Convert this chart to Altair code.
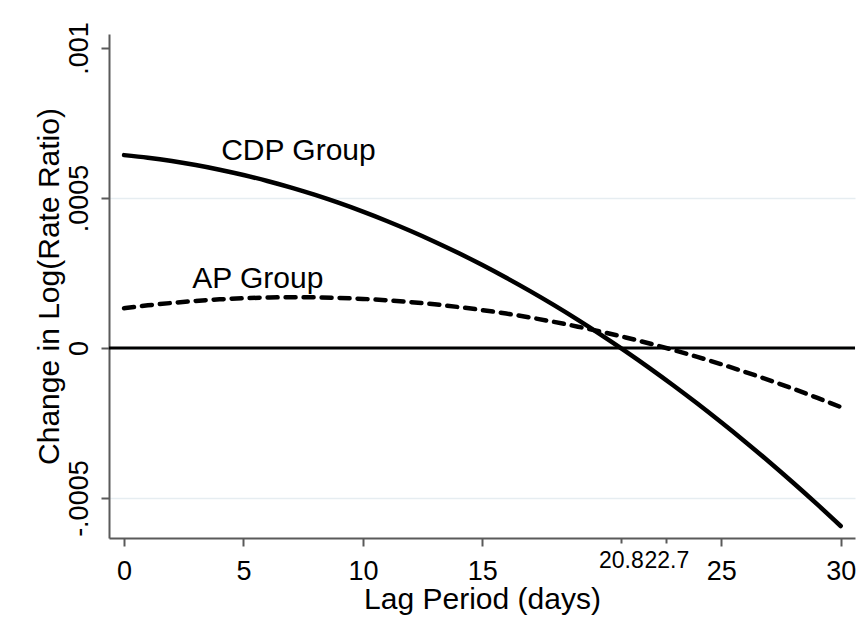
import altair as alt
import pandas as pd

# Lag period (days) at which the fitted curves are evaluated
days = list(range(31))

# Fitted change in log(rate ratio), CDP group
cdp_values = [
    0.0006430, 0.0006342, 0.0006232, 0.0006100, 0.0005945, 0.0005768,
    0.0005568, 0.0005346, 0.0005102, 0.0004835, 0.0004546, 0.0004235,
    0.0003901, 0.0003545, 0.0003166, 0.0002766, 0.0002342, 0.0001897,
    0.0001429, 0.0000939, 0.0000426, -0.0000109, -0.0000666, -0.0001246,
    -0.0001848, -0.0002473, -0.0003119, -0.0003788, -0.0004480, -0.0005194,
    -0.0005930,
]

# Fitted change in log(rate ratio), AP group
ap_values = [
    0.0001330, 0.0001424, 0.0001504, 0.0001571, 0.0001623, 0.0001661,
    0.0001684, 0.0001694, 0.0001690, 0.0001672, 0.0001639, 0.0001592,
    0.0001532, 0.0001457, 0.0001368, 0.0001266, 0.0001149, 0.0001018,
    0.0000872, 0.0000713, 0.0000540, 0.0000353, 0.0000151, -0.0000064,
    -0.0000294, -0.0000538, -0.0000795, -0.0001067, -0.0001353, -0.0001653,
    -0.0001967,
]

# Curve labels and where they sit (day, value at baseline)
label_text = ["CDP Group", "AP Group"]
label_day = [7.3, 5.6]
label_value = [0.000627, 0.000200]

# Axis ticks
x_ticks = [0, 5, 10, 15, 20.8, 22.7, 25, 30]
x_tick_labels = ["0", "5", "10", "15", "20.8", "22.7", "25", "30"]
x_marked = [20.8, 22.7]  # zero crossings, drawn smaller
y_ticks = [-0.0005, 0, 0.0005, 0.001]
y_tick_labels = ["-.0005", "0", ".0005", ".001"]

x_domain = [-0.63, 30.6]
y_domain = [-0.000633, 0.0010467]

FONT = "Liberation Sans"
AXIS_GRAY = "#5a5a5a"


def label_expr(values, labels):
    parts = [f"abs(datum.value - ({v})) < 1e-9 ? '{t}'" for v, t in zip(values, labels)]
    return " : ".join(parts) + " : ''"


marked_test = " || ".join(f"abs(datum.value - {v}) < 1e-9" for v in x_marked)
ytop_test = f"abs(datum.value - {y_ticks[-1]}) < 1e-12"

cdp_df = pd.DataFrame({"day": days, "value": cdp_values})
ap_df = pd.DataFrame({"day": days, "value": ap_values})
labels_df = pd.DataFrame({"day": label_day, "value": label_value, "text": label_text})
zero_df = pd.DataFrame({"value": [0.0]})

x_enc = alt.X(
    "day:Q",
    scale=alt.Scale(domain=x_domain, nice=False, zero=False),
    axis=alt.Axis(
        title="Lag Period (days)",
        values=x_ticks,
        labelExpr=label_expr(x_ticks, x_tick_labels),
        grid=False,
        labelFont=FONT,
        labelFontSize={"condition": {"test": marked_test, "value": 23}, "value": 27},
        labelBaseline="alphabetic",
        labelPadding={"condition": {"test": marked_test, "value": 24}, "value": 33},
        labelColor="black",
        labelFlush=False,
        labelOverlap=False,
        tickSize={"condition": {"test": marked_test, "value": 5}, "value": 8},
        tickColor=AXIS_GRAY,
        tickWidth=2,
        domainColor=AXIS_GRAY,
        domainWidth=2,
        titleFont=FONT,
        titleFontSize=30,
        titleFontWeight="normal",
        titleColor="black",
        titleBaseline="alphabetic",
        titleY=70,
    ),
)

y_enc = alt.Y(
    "value:Q",
    scale=alt.Scale(domain=y_domain, nice=False, zero=False),
    axis=alt.Axis(
        title="Change in Log(Rate Ratio)",
        values=y_ticks,
        labelExpr=label_expr(y_ticks, y_tick_labels),
        labelAngle=-90,
        labelAlign="center",
        labelBaseline="alphabetic",
        labelPadding=14,
        labelFont=FONT,
        labelFontSize=27,
        labelColor="black",
        labelFlush=False,
        labelOverlap=False,
        tickSize=8,
        tickColor=AXIS_GRAY,
        tickWidth=2,
        domainColor=AXIS_GRAY,
        domainWidth=2,
        grid=True,
        gridColor="#e6edf1",
        gridWidth=1.5,
        gridOpacity={"condition": {"test": ytop_test, "value": 0}, "value": 1},
        titleFont=FONT,
        titleFontSize=30,
        titleFontWeight="normal",
        titleColor="black",
        titleAngle=-90,
        titleBaseline="alphabetic",
        titleX=-51,
        titleY=252,
    ),
)

cdp_line = alt.Chart(cdp_df).mark_line(
    color="black", strokeWidth=4.5, strokeCap="round", interpolate="monotone"
).encode(x=x_enc, y=y_enc)

ap_line = alt.Chart(ap_df).mark_line(
    color="black", strokeWidth=4.5, strokeCap="round", strokeDash=[10, 8],
    interpolate="monotone"
).encode(x="day:Q", y="value:Q")

zero_rule = alt.Chart(zero_df).mark_rule(color="black", strokeWidth=3).encode(
    y="value:Q"
)

curve_labels = alt.Chart(labels_df).mark_text(
    font=FONT, fontSize=30, color="black", align="center", baseline="alphabetic"
).encode(x="day:Q", y="value:Q", text="text:N")

chart = (
    alt.layer(cdp_line, zero_rule, ap_line, curve_labels)
    .properties(
        width=746,
        height=504,
        autosize=alt.AutoSizeParams(type="none"),
        padding={"left": 109, "top": 34, "right": 12, "bottom": 96},
        background="white",
    )
    .configure_view(strokeWidth=0)
)

chart.save("out.html", embed_options={"renderer": "svg", "actions": False})
